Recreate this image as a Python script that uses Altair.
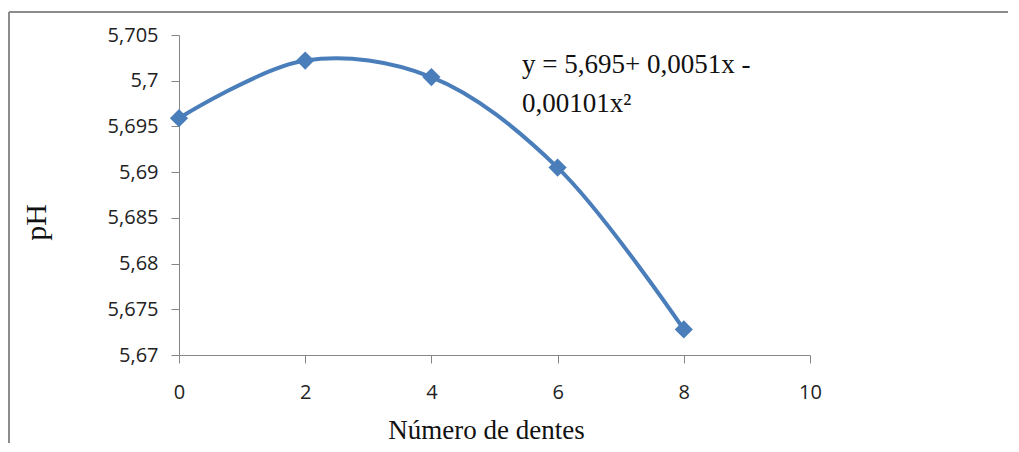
import altair as alt
import pandas as pd

# Data
dentes = [0, 2, 4, 6, 8]
ph = [5.6959, 5.7022, 5.7004, 5.6905, 5.6728]
y_ticks = [5.67, 5.675, 5.68, 5.685, 5.69, 5.695, 5.7, 5.705]
x_ticks = [0, 2, 4, 6, 8, 10]
eq_line1 = "y = 5,695+ 0,0051x -"
eq_line2 = "0,00101x²"
x_title = "Número de dentes"
y_title = "pH"

df = pd.DataFrame({"dentes": dentes, "ph": ph})

BLUE = "#4A7EBB"
GRAY = "#868686"
W, H = 631, 320
PAD = {"left": 171, "top": 27, "right": 198, "bottom": 88}

x_enc = alt.X(
    "dentes:Q",
    scale=alt.Scale(domain=[0, 10], nice=False, zero=False),
    axis=alt.Axis(
        values=x_ticks,
        format="d",
        title=x_title,
        grid=False,
        domainColor=GRAY,
        tickColor=GRAY,
        tickSize=8,
        labelFont="Open Sans",
        labelFontSize=20,
        labelColor="#222222",
        labelBaseline="alphabetic",
        labelPadding=35,
        labelFlush=False,
        titleFont="Liberation Serif",
        titleFontSize=27,
        titleFontWeight="normal",
        titleColor="#111111",
        titleBaseline="alphabetic",
        titleAlign="center",
        titleX=307,
        titleY=83,
    ),
)
y_enc = alt.Y(
    "ph:Q",
    scale=alt.Scale(domain=[5.67, 5.705], nice=False, zero=False),
    axis=alt.Axis(
        values=y_ticks,
        labelExpr="replace(format(datum.value, '.3~f'), '.', ',')",
        title=y_title,
        grid=False,
        domainColor=GRAY,
        tickColor=GRAY,
        tickSize=8,
        labelFont="Open Sans",
        labelFontSize=20,
        labelColor="#222222",
        labelPadding=13,
        labelBaseline="middle",
        labelFlush=False,
        titleFont="Liberation Serif",
        titleFontSize=30,
        titleFontWeight="normal",
        titleColor="#111111",
        titleAngle=270,
        titleAlign="center",
        titleBaseline="middle",
        titleX=-143,
        titleY=187,
    ),
)

base = alt.Chart(df)
line = base.mark_line(color=BLUE, strokeWidth=4, interpolate="catmull-rom").encode(x=x_enc, y=y_enc)
points = base.mark_point(shape="diamond", filled=True, color=BLUE, size=330, opacity=1).encode(
    x="dentes:Q", y="ph:Q"
)

one = alt.Data(values=[{"a": 1}])
eq1 = alt.Chart(one).mark_text(
    text=eq_line1, font="Liberation Serif", fontSize=27, align="left", baseline="alphabetic", color="#111111"
).encode(x=alt.value(343), y=alt.value(38))
eq2 = alt.Chart(one).mark_text(
    text=eq_line2, font="Liberation Serif", fontSize=27, align="left", baseline="alphabetic", color="#111111"
).encode(x=alt.value(343), y=alt.value(77))

border_top = alt.Chart(one).mark_rule(color="#8c8c8c", strokeWidth=2).encode(
    x=alt.value(-170), x2=alt.value(W + PAD["right"]), y=alt.value(-23)
)
border_left = alt.Chart(one).mark_rule(color="#8c8c8c", strokeWidth=2).encode(
    x=alt.value(-170), y=alt.value(-23), y2=alt.value(H + PAD["bottom"])
)

chart = (
    alt.layer(line, points, eq1, eq2, border_top, border_left)
    .properties(width=W, height=H, padding=PAD, autosize=alt.AutoSizeParams(type="none"), background="white")
    .configure_view(stroke=None)
)

chart.save("out.html", embed_options={"renderer": "svg", "actions": False})
